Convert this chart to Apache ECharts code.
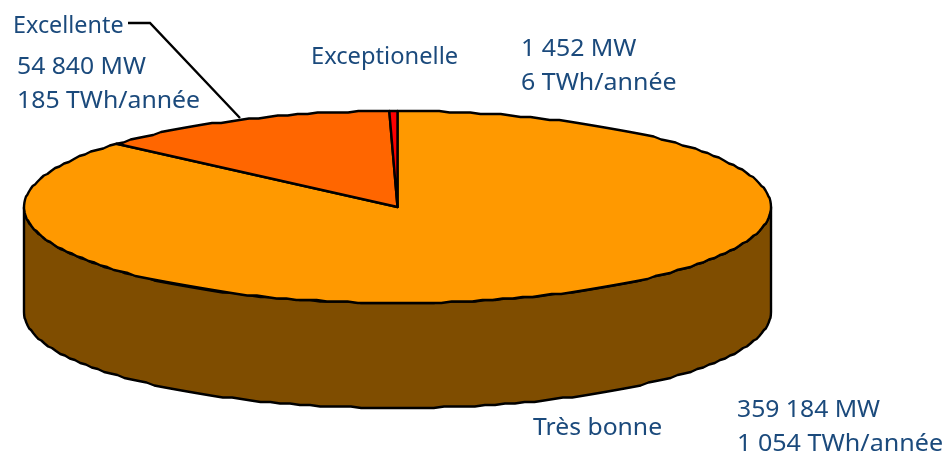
<!DOCTYPE html>
<html><head><meta charset="utf-8">
<style>html,body{margin:0;padding:0;background:#fff}#c{width:948px;height:458px}</style>
<script src="https://cdn.jsdelivr.net/npm/echarts@6/dist/echarts.min.js"></script>
</head><body><div id="c"></div>
<script>
const categories = ['Très bonne', 'Excellente', 'Exceptionelle'];
const powerMW = [359184, 54840, 1452];
const powerLabels = ['359 184 MW', '54 840 MW', '1 452 MW'];
const energyLabels = ['1 054 TWh/année', '185 TWh/année', '6 TWh/année'];
const colors = ['#FF9900', '#FF6600', '#FF0000'];
const sideColor = '#7F4D00';
const textColor = '#1B4A7C';
const fontFamily = '"Noto Sans", sans-serif';
const fontSize = 24;

const CX = 397.5, CY = 207, RX = 373.5, RY = 96, DEPTH = 105;
const total = powerMW.reduce((a, b) => a + b, 0);
const GRID = 1.5;
const snap = v => Math.round(v / GRID) * GRID;
const pt = (t, dy) => [CX + RX * Math.sin(t), CY - RY * Math.cos(t) + (dy || 0)];
function arc(a0, a1, dy) {
  const n = Math.max(2, Math.ceil(Math.abs(a1 - a0) / 0.028)), out = [];
  for (let i = 0; i <= n; i++) {
    const p = pt(a0 + (a1 - a0) * i / n, dy);
    out.push(i === 0 || i === n ? p : [p[0], snap(p[1])]);
  }
  return out;
}
const stroke = { stroke: '#000', lineWidth: 2.4, lineJoin: 'round' };

function renderItem(params, api) {
  const i = params.dataIndex;
  let before = 0;
  for (let k = 0; k < i; k++) before += powerMW[k];
  const a0 = before / total * Math.PI * 2;
  const a1 = (before + api.value(0)) / total * Math.PI * 2;
  const children = [];
  const s0 = Math.max(a0, Math.PI / 2), s1 = Math.min(a1, Math.PI * 1.5);
  if (s1 > s0) {
    children.push({
      type: 'polygon',
      shape: { points: arc(s0, s1, 0).concat(arc(s1, s0, DEPTH)) },
      style: Object.assign({ fill: sideColor }, stroke)
    });
  }
  children.push({
    type: 'polygon',
    shape: { points: [[CX, CY]].concat(arc(a0, a1, 0)) },
    style: Object.assign({ fill: colors[i] }, stroke)
  });
  return { type: 'group', children };
}

const text = (x, y, s, sx) => ({
  type: 'text', x, y, scaleX: sx,
  style: { text: s, fill: textColor, font: fontSize + 'px ' + fontFamily, verticalAlign: 'middle' }
});
const chart = echarts.init(document.getElementById('c'), null, { renderer: 'canvas' });
chart.setOption({
  animation: false,
  backgroundColor: '#fff',
  series: [{
    type: 'custom',
    coordinateSystem: 'none',
    renderItem,
    data: powerMW.map((v, i) => ({ name: categories[i], value: [v] })),
    silent: true
  }],
  graphic: [
    { type: 'polyline', z: 10, shape: { points: [[128, 23], [150, 23], [240, 118]] }, style: { stroke: '#000', lineWidth: 2.4, fill: null } },
    text(13, 26, categories[1], 0.974), text(17, 67, powerLabels[1], 1.03), text(17, 101, energyLabels[1], 1.034),
    text(311, 57, categories[2], 0.987), text(521, 49, powerLabels[2], 1.036), text(521, 83, energyLabels[2], 1.04),
    text(533, 428, categories[0], 1.03), text(737, 410, powerLabels[0], 1.03), text(737, 444, energyLabels[0], 1.046)
  ]
});
</script></body></html>
